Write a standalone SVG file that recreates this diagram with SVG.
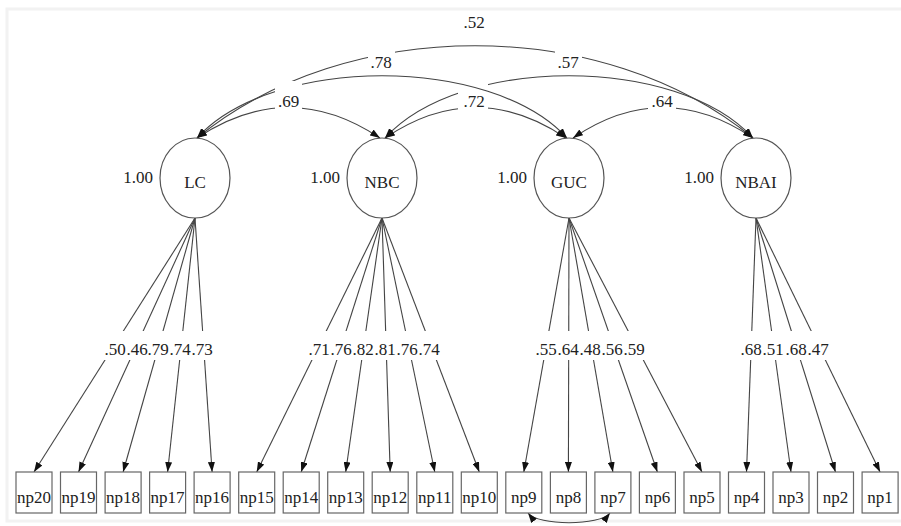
<svg xmlns="http://www.w3.org/2000/svg" width="901" height="526" viewBox="0 0 901 526" font-family="'Liberation Serif', 'Times New Roman', serif" font-size="17">
<style>
text{font-family:'Liberation Serif','Times New Roman',serif;font-size:17px;fill:#222}
.m{text-anchor:middle}
.e{text-anchor:end}
.ln{fill:none;stroke:#444;stroke-width:1.1}
.bg{fill:#fff}
.lat{fill:#fff;stroke:#555;stroke-width:1.2}
.box{fill:#fff;stroke:#666;stroke-width:1.2}
</style>
<defs>
<marker id="ah" viewBox="0 0 10 7" refX="10" refY="3.5" markerWidth="10" markerHeight="7" markerUnits="userSpaceOnUse" orient="auto-start-reverse"><path d="M0,0L10,3.5L0,7z" fill="#111"/></marker>
</defs>
<rect x="0" y="0" width="901" height="526" fill="#fff"/>
<rect x="7" y="9" width="900" height="512" fill="none" stroke="#f2f2f2" stroke-width="3"/>
<g id="connectors">
<path id="c3" class="ln" d="M573,138 Q663,77 753,138" marker-start="url(#ah)" marker-end="url(#ah)"/>
<rect class="bg" x="648" y="84" width="28" height="27"/>
<path id="c5" class="ln" d="M385,138 C461,55 677,55 753,138" marker-start="url(#ah)" marker-end="url(#ah)"/>
<path id="c2" class="ln" d="M385,138 Q475.5,77 566,138" marker-start="url(#ah)" marker-end="url(#ah)"/>
<rect class="bg" x="458" y="83" width="30" height="28"/>
<path id="c4" class="ln" d="M197,138 C273,55 491,55 567,138" marker-start="url(#ah)" marker-end="url(#ah)"/>
<path id="c1" class="ln" d="M197,138 Q288.5,77 380,138" marker-start="url(#ah)" marker-end="url(#ah)"/>
<path id="c6" class="ln" d="M197,138 C347,15 603,15 753,138" marker-start="url(#ah)" marker-end="url(#ah)"/>
<rect class="bg" x="275" y="81" width="27" height="30"/>
<rect class="bg" x="368" y="48" width="27" height="25"/>
<rect class="bg" x="555" y="48" width="27" height="25"/>
<text class="m" x="474" y="28">.52</text>
<text class="m" x="381" y="68">.78</text>
<text class="m" x="568" y="68">.57</text>
<text class="m" x="288.5" y="107">.69</text>
<text class="m" x="474" y="107">.72</text>
<text class="m" x="662" y="107">.64</text>
<line class="ln" x1="195" y1="218" x2="34" y2="472" marker-end="url(#ah)"/>
<line class="ln" x1="195" y1="218" x2="78.5" y2="472" marker-end="url(#ah)"/>
<line class="ln" x1="195" y1="218" x2="123.1" y2="472" marker-end="url(#ah)"/>
<line class="ln" x1="195" y1="218" x2="167.6" y2="472" marker-end="url(#ah)"/>
<line class="ln" x1="195" y1="218" x2="212.1" y2="472" marker-end="url(#ah)"/>
<line class="ln" x1="382" y1="218" x2="256.7" y2="472" marker-end="url(#ah)"/>
<line class="ln" x1="382" y1="218" x2="301.2" y2="472" marker-end="url(#ah)"/>
<line class="ln" x1="382" y1="218" x2="345.7" y2="472" marker-end="url(#ah)"/>
<line class="ln" x1="382" y1="218" x2="390.2" y2="472" marker-end="url(#ah)"/>
<line class="ln" x1="382" y1="218" x2="434.8" y2="472" marker-end="url(#ah)"/>
<line class="ln" x1="382" y1="218" x2="479.3" y2="472" marker-end="url(#ah)"/>
<line class="ln" x1="569" y1="218" x2="523.8" y2="472" marker-end="url(#ah)"/>
<line class="ln" x1="569" y1="218" x2="568.4" y2="472" marker-end="url(#ah)"/>
<line class="ln" x1="569" y1="218" x2="612.9" y2="472" marker-end="url(#ah)"/>
<line class="ln" x1="569" y1="218" x2="657.4" y2="472" marker-end="url(#ah)"/>
<line class="ln" x1="569" y1="218" x2="702" y2="472" marker-end="url(#ah)"/>
<line class="ln" x1="756" y1="218" x2="746.5" y2="472" marker-end="url(#ah)"/>
<line class="ln" x1="756" y1="218" x2="791" y2="472" marker-end="url(#ah)"/>
<line class="ln" x1="756" y1="218" x2="835.5" y2="472" marker-end="url(#ah)"/>
<line class="ln" x1="756" y1="218" x2="880.1" y2="472" marker-end="url(#ah)"/>
<rect class="bg" x="103" y="331" width="112" height="29"/>
<rect class="bg" x="306" y="331" width="137" height="29"/>
<rect class="bg" x="534" y="331" width="115" height="29"/>
<rect class="bg" x="739" y="331" width="92" height="29"/>
<text class="m" x="115" y="355">.50</text>
<text class="m" x="137" y="355">.46</text>
<text class="m" x="158" y="355">.79</text>
<text class="m" x="180" y="355">.74</text>
<text class="m" x="202" y="355">.73</text>
<text class="m" x="319" y="355">.71</text>
<text class="m" x="341" y="355">.76</text>
<text class="m" x="363" y="355">.82</text>
<text class="m" x="385" y="355">.81</text>
<text class="m" x="407" y="355">.76</text>
<text class="m" x="429" y="355">.74</text>
<text class="m" x="546" y="355">.55</text>
<text class="m" x="568" y="355">.64</text>
<text class="m" x="590" y="355">.48</text>
<text class="m" x="612" y="355">.56</text>
<text class="m" x="634" y="355">.59</text>
<text class="m" x="751" y="355">.68</text>
<text class="m" x="773" y="355">.51</text>
<text class="m" x="796" y="355">.68</text>
<text class="m" x="818" y="355">.47</text>
<path class="ln" d="M528,513 C538,526 600,526 610,513" marker-start="url(#ah)" marker-end="url(#ah)"/>
</g>
<g id="LC"><ellipse class="lat" cx="195" cy="178" rx="35" ry="40"/><text class="m" x="195" y="188">LC</text><text class="e" x="153" y="183">1.00</text></g>
<g id="NBC"><ellipse class="lat" cx="382" cy="178" rx="35" ry="40"/><text class="m" x="382" y="188">NBC</text><text class="e" x="340" y="183">1.00</text></g>
<g id="GUC"><ellipse class="lat" cx="569" cy="178" rx="35" ry="40"/><text class="m" x="569" y="188">GUC</text><text class="e" x="527" y="183">1.00</text></g>
<g id="NBAI"><ellipse class="lat" cx="756" cy="178" rx="35" ry="40"/><text class="m" x="756" y="188">NBAI</text><text class="e" x="714" y="183">1.00</text></g>
<g id="np20"><rect class="box" x="16" y="472" width="36" height="41"/><text class="m" x="34" y="503">np20</text></g>
<g id="np19"><rect class="box" x="60.5" y="472" width="36" height="41"/><text class="m" x="78.5" y="503">np19</text></g>
<g id="np18"><rect class="box" x="105.1" y="472" width="36" height="41"/><text class="m" x="123.1" y="503">np18</text></g>
<g id="np17"><rect class="box" x="149.6" y="472" width="36" height="41"/><text class="m" x="167.6" y="503">np17</text></g>
<g id="np16"><rect class="box" x="194.1" y="472" width="36" height="41"/><text class="m" x="212.1" y="503">np16</text></g>
<g id="np15"><rect class="box" x="238.7" y="472" width="36" height="41"/><text class="m" x="256.7" y="503">np15</text></g>
<g id="np14"><rect class="box" x="283.2" y="472" width="36" height="41"/><text class="m" x="301.2" y="503">np14</text></g>
<g id="np13"><rect class="box" x="327.7" y="472" width="36" height="41"/><text class="m" x="345.7" y="503">np13</text></g>
<g id="np12"><rect class="box" x="372.2" y="472" width="36" height="41"/><text class="m" x="390.2" y="503">np12</text></g>
<g id="np11"><rect class="box" x="416.8" y="472" width="36" height="41"/><text class="m" x="434.8" y="503">np11</text></g>
<g id="np10"><rect class="box" x="461.3" y="472" width="36" height="41"/><text class="m" x="479.3" y="503">np10</text></g>
<g id="np9"><rect class="box" x="505.8" y="472" width="36" height="41"/><text class="m" x="523.8" y="503">np9</text></g>
<g id="np8"><rect class="box" x="550.4" y="472" width="36" height="41"/><text class="m" x="568.4" y="503">np8</text></g>
<g id="np7"><rect class="box" x="594.9" y="472" width="36" height="41"/><text class="m" x="612.9" y="503">np7</text></g>
<g id="np6"><rect class="box" x="639.4" y="472" width="36" height="41"/><text class="m" x="657.4" y="503">np6</text></g>
<g id="np5"><rect class="box" x="684" y="472" width="36" height="41"/><text class="m" x="702" y="503">np5</text></g>
<g id="np4"><rect class="box" x="728.5" y="472" width="36" height="41"/><text class="m" x="746.5" y="503">np4</text></g>
<g id="np3"><rect class="box" x="773" y="472" width="36" height="41"/><text class="m" x="791" y="503">np3</text></g>
<g id="np2"><rect class="box" x="817.5" y="472" width="36" height="41"/><text class="m" x="835.5" y="503">np2</text></g>
<g id="np1"><rect class="box" x="862.1" y="472" width="36" height="41"/><text class="m" x="880.1" y="503">np1</text></g>
</svg>
